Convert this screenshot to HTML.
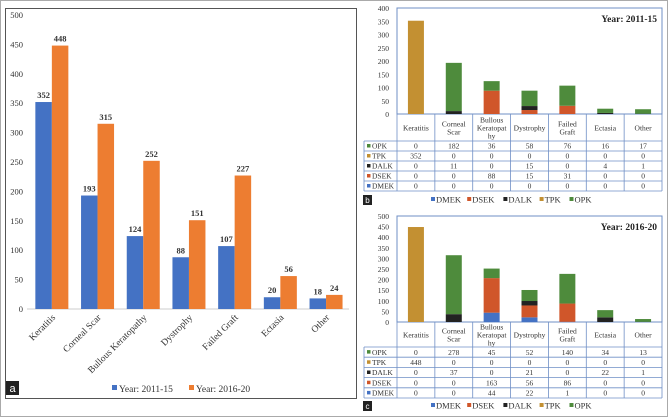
<!DOCTYPE html>
<html><head><meta charset="utf-8"><style>
html,body{margin:0;padding:0;background:#fff;overflow:hidden;}
svg{display:block;font-family:"Liberation Serif",serif;}
</style></head><body>
<svg id="fig" width="668" height="417" viewBox="0 0 668 417"></svg>
<script>
const catsA=["Keratitis","Corneal Scar","Bullous Keratopathy","Dystrophy","Failed Graft","Ectasia","Other"];
const yearA=[352,193,124,88,107,20,18];
const yearB=[448,315,252,151,227,56,24];
const ticksA=[0,50,100,150,200,250,300,350,400,450,500];
const seriesNames=["DMEK","DSEK","DALK","TPK","OPK"];
const bDMEK=[0,0,0,0,0,0,0];
const bDSEK=[0,0,88,15,31,0,0];
const bDALK=[0,11,0,15,0,4,1];
const bTPK=[352,0,0,0,0,0,0];
const bOPK=[0,182,36,58,76,16,17];
const cDMEK=[0,0,44,22,1,0,0];
const cDSEK=[0,0,163,56,86,0,0];
const cDALK=[0,37,0,21,0,22,1];
const cTPK=[448,0,0,0,0,0,0];
const cOPK=[0,278,45,52,140,34,13];
const ticksB=[0,50,100,150,200,250,300,350,400];
const ticksC=[0,50,100,150,200,250,300,350,400,450,500];
const headLines=[["Keratitis"],["Corneal","Scar"],["Bullous","Keratopat","hy"],["Dystrophy"],["Failed","Graft"],["Ectasia"],["Other"]];
const colors={DMEK:"#4472C4",DSEK:"#D0562A",DALK:"#222222",TPK:"#C39032",OPK:"#4E8B3C"};

const svg=document.getElementById('fig');
const NS="http://www.w3.org/2000/svg";
function mk(tag,attrs,parent){const e=document.createElementNS(NS,tag);for(const k in attrs)e.setAttribute(k,attrs[k]);(parent||svg).appendChild(e);return e;}
function txt(x,y,s,size,anchor,parent,extra){const t=mk('text',Object.assign({x:x,y:y,'font-size':size,'text-anchor':anchor||'middle',fill:'#333'},extra||{}),parent);t.textContent=s;return t;}

let fr=mk('rect',{x:0.5,y:0.5,width:667,height:416,fill:'none',stroke:'#aaa'});



// ---------- Panel a ----------
const gA=mk('g',{});


let ba=mk('rect',{x:5.5,y:8.5,width:351,height:390,fill:'none',stroke:'#555'},gA);


const ax0=29,aBand=45.7,ay0=309,aScale=0.588;
function xA(i){return ax0+(i+0.5)*aBand;}
function yA(v){return ay0-v*aScale;}
ticksA.forEach(t=>{const e=txt(23,yA(t)+3,String(t),8.5,'end',gA);

});
let axl=mk('line',{x1:27,x2:349,y1:ay0,y2:ay0,stroke:'#ccc'},gA);


catsA.forEach((c,i)=>{
  const cx=xA(i),bw=16.5;
  const r1=mk('rect',{x:cx-bw,y:yA(yearA[i]),width:bw,height:yearA[i]*aScale,fill:'#4472C4'},gA);
  
  
  const r2=mk('rect',{x:cx,y:yA(yearB[i]),width:bw,height:yearB[i]*aScale,fill:'#ED7D31'},gA);
  
  
  const l1=txt(cx-bw/2,yA(yearA[i])-4,String(yearA[i]),8.5,'middle',gA,{'font-weight':'bold'});
  
  
  const l2=txt(cx+bw/2,yA(yearB[i])-4,String(yearB[i]),8.5,'middle',gA,{'font-weight':'bold'});
  
  
  const cl=txt(cx+4,318,c,9.5,'end',gA,{transform:`rotate(-45 ${cx+4} 318)`});
  
  
});
let lgA=mk('g',{},gA);


mk('rect',{x:112,y:385,width:5,height:5,fill:'#4472C4'},lgA);
let la1=txt(119,392,"Year: 2011-15",9.5,'start',lgA);


mk('rect',{x:189,y:385,width:5,height:5,fill:'#ED7D31'},lgA);
let la2=txt(196,392,"Year: 2016-20",9.5,'start',lgA);


let pa=mk('rect',{x:6,y:381,width:13,height:14,fill:'#222'},gA);


txt(12.5,392,"a",11,'middle',gA,{fill:'#fff','font-family':'Liberation Sans, sans-serif'});

// ---------- Stacked panels ----------
function stacked(name,letter,top,bottom,maxV,ticks,title,ser,tblTop,hdrH,rowH,legY){
  const g=mk('g',{});
  
  
  const x0=397,x1=662,band=(x1-x0)/7,sc=(bottom-top)/maxV;
  const yS=v=>bottom-v*sc;
  ticks.forEach(t=>{const e=txt(389,yS(t)+3,String(t),7.5,'end',g);
    
    });
  const box=mk('rect',{x:x0,y:top,width:x1-x0,height:bottom-top,fill:'none',stroke:'#6F8FC6'},g);
  
  
  const tt=txt(657,top+14,title,9.5,'end',g,{'font-weight':'bold',fill:'#222'});
  
  
  const order=["DMEK","DSEK","DALK","TPK","OPK"];
  for(let i=0;i<7;i++){
    let acc=0;const cx=x0+(i+0.5)*band;
    order.forEach(s=>{const v=ser[s][i];if(v>0){
      const r=mk('rect',{x:cx-8,y:yS(acc+v),width:16,height:v*sc,fill:colors[s]},g);
      
      }
      acc+=v;});
  }
  const tb=mk('g',{},g);
  
  
  const tx0=364,tBot=tblTop+hdrH+rowH*5;
  for(let i=0;i<=7;i++){mk('line',{x1:x0+i*band,x2:x0+i*band,y1:bottom,y2:tBot,stroke:'#6F8FC6','stroke-width':0.8},tb);}
  mk('line',{x1:tx0,x2:tx0,y1:tblTop+hdrH,y2:tBot,stroke:'#6F8FC6','stroke-width':0.8},tb);
  for(let r=0;r<=5;r++){const y=tblTop+hdrH+r*rowH;mk('line',{x1:tx0,x2:x1,y1:y,y2:y,stroke:'#6F8FC6','stroke-width':0.8},tb);}
  headLines.forEach((ls,i)=>{const cx=x0+(i+0.5)*band;const n=ls.length;
    ls.forEach((l,k)=>{const e=txt(cx,tblTop+hdrH/2+3+(k-(n-1)/2)*8,l,7.5,'middle',tb);
      
      });});
  const rows=["OPK","TPK","DALK","DSEK","DMEK"];
  rows.forEach((s,r)=>{const y=tblTop+hdrH+r*rowH;
    mk('rect',{x:tx0+3,y:y+rowH/2-2,width:3.5,height:3.5,fill:colors[s]},tb);
    const lab=txt(tx0+8,y+rowH/2+2.7,s,7.5,'start',tb);
    
    
    for(let i=0;i<7;i++){const e=txt(x0+(i+0.5)*band,y+rowH/2+2.7,String(ser[s][i]),7.5,'middle',tb);
      
      }
  });
  const lg=mk('g',{},g);
  
  
  let lx=431;
  seriesNames.forEach(s=>{mk('rect',{x:lx,y:legY-4,width:4,height:4,fill:colors[s]},lg);
    const e=txt(lx+5,legY+1.5,s,8.5,'start',lg);
    
    
    lx+=5+s.length*6.3+6;});
  const pl=mk('rect',{x:363,y:legY-6,width:9,height:10,fill:'#222'},g);
  
  
  txt(367.5,legY+2,letter,8,'middle',g,{fill:'#fff','font-family':'Liberation Sans, sans-serif'});
}
stacked('panel-b-chart','b',8,114,400,ticksB,"Year: 2011-15",
  {DMEK:bDMEK,DSEK:bDSEK,DALK:bDALK,TPK:bTPK,OPK:bOPK},114,27,10,201);
stacked('panel-c-chart','c',216,322,500,ticksC,"Year: 2016-20",
  {DMEK:cDMEK,DSEK:cDSEK,DALK:cDALK,TPK:cTPK,OPK:cOPK},322,25,10.2,407);
</script>
</body></html>
